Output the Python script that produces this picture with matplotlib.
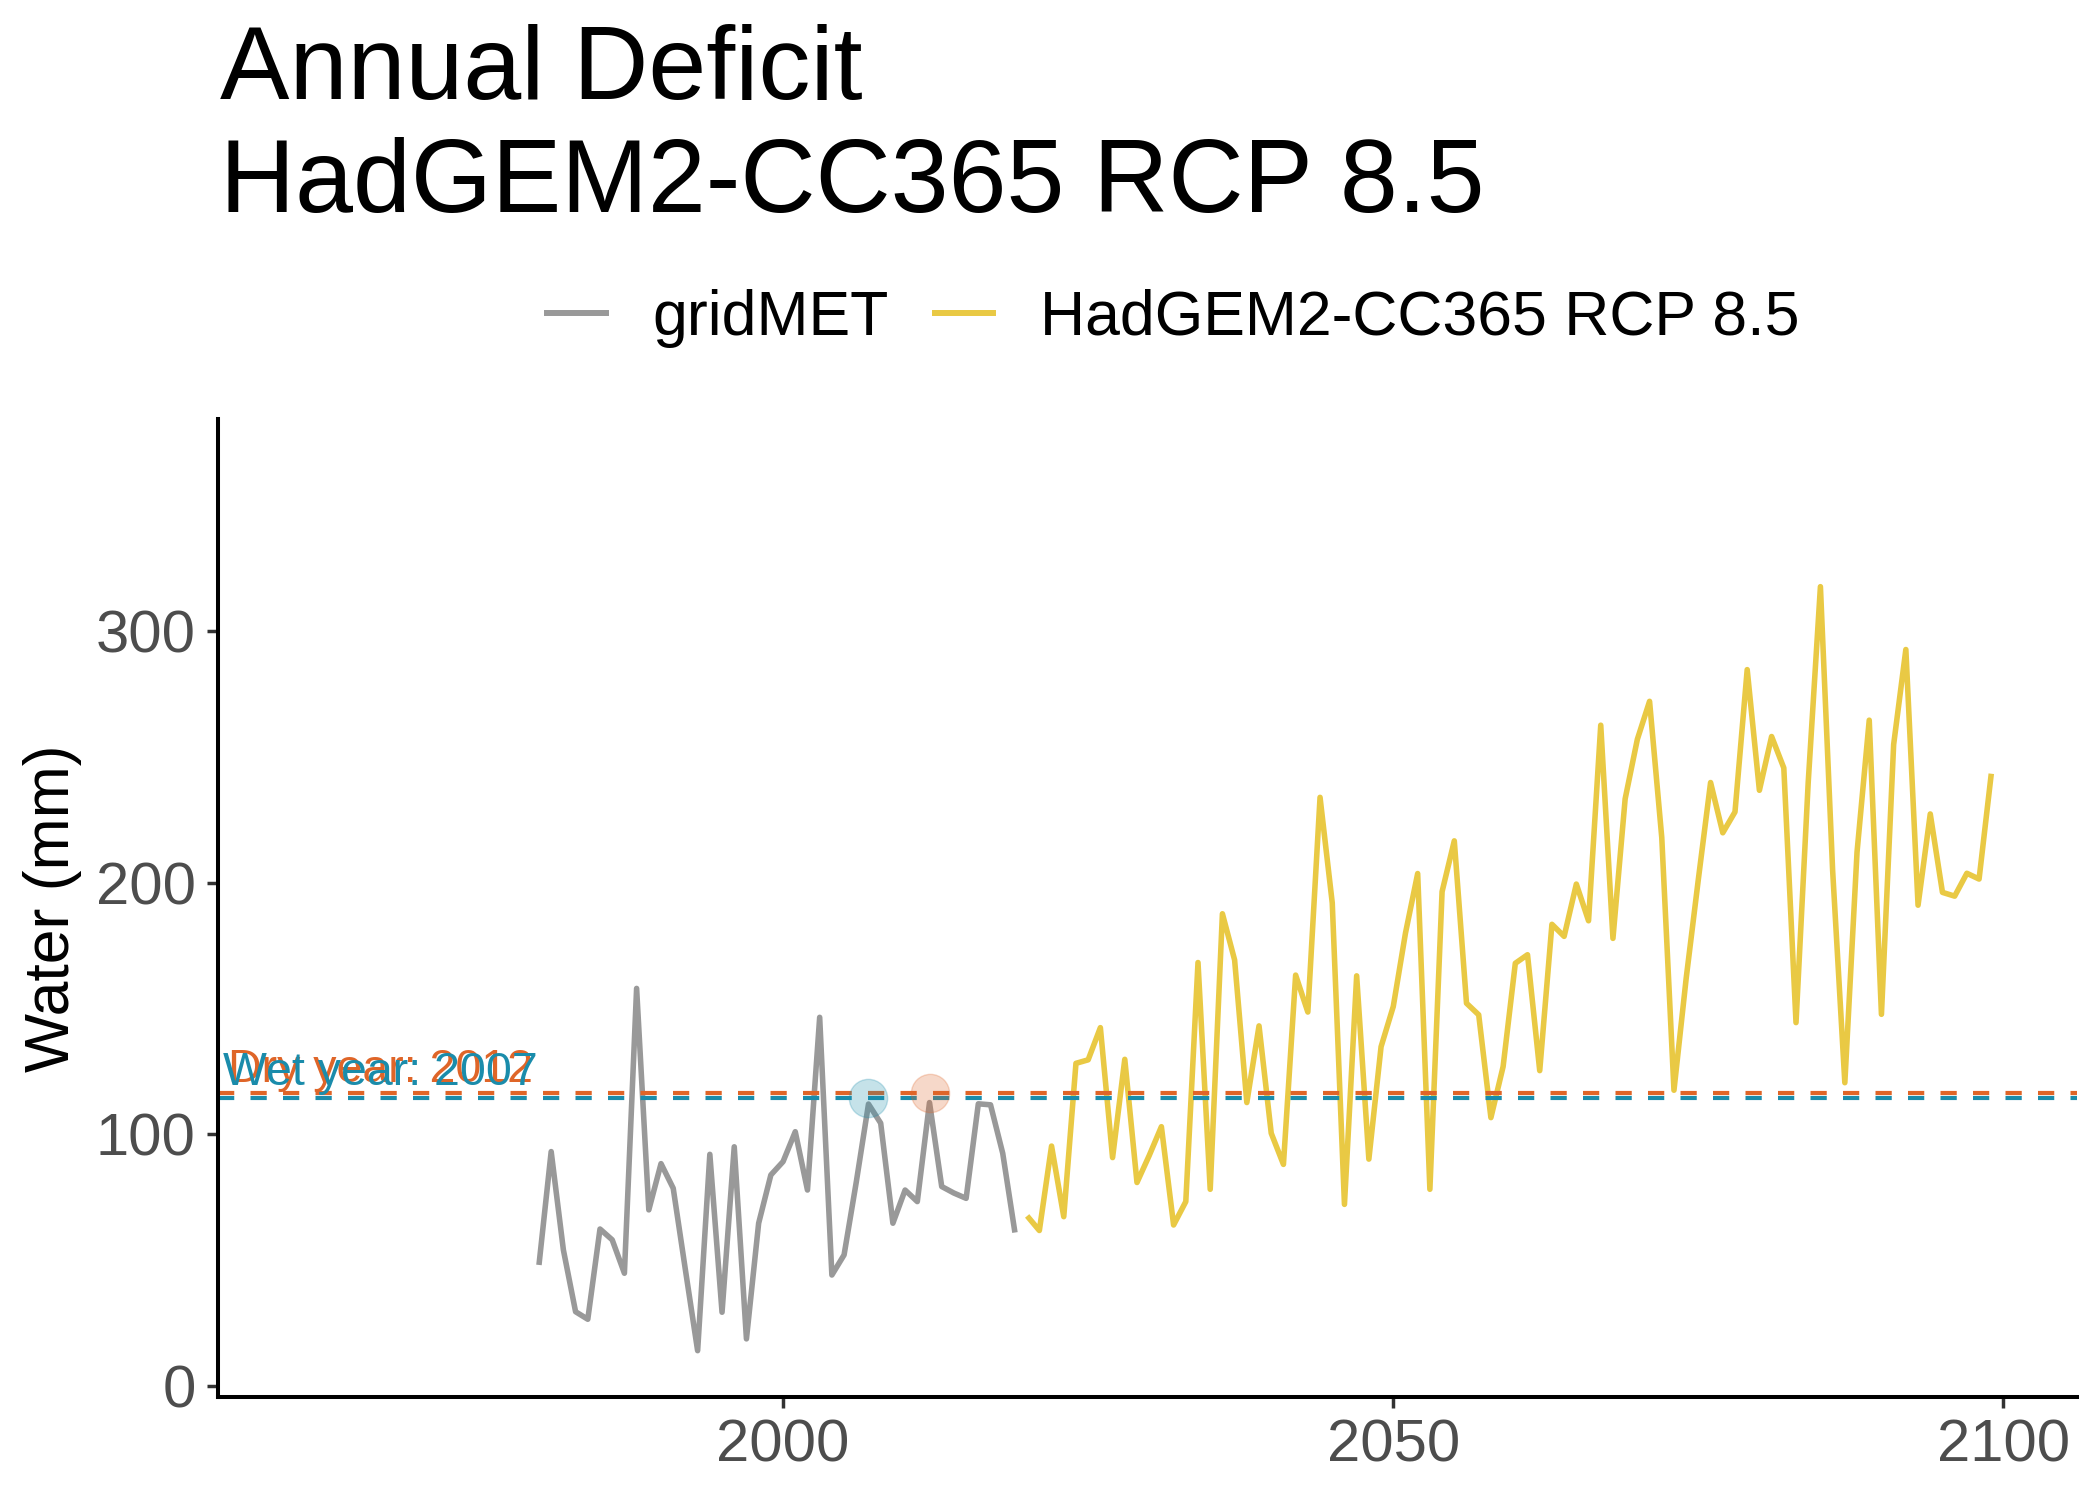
import matplotlib
matplotlib.use("Agg")
import matplotlib.pyplot as plt
from matplotlib.lines import Line2D

plt.rcParams['font.family'] = ['Liberation Sans', 'DejaVu Sans']

# data
years_gridmet = list(range(1980, 2020))
gridmet = [48.0, 93.1, 54.0, 29.4, 26.4, 62.3, 58.0, 44.7, 158.0, 69.9,
           88.3, 78.5, 46.0, 13.9, 92.0, 29.2, 95.0, 18.6, 64.6, 83.8,
           89.1, 101.0, 77.8, 146.5, 44.0, 52.0, 81.0, 112.0, 104.4, 64.6,
           77.8, 73.2, 112.6, 79.2, 76.6, 74.5, 112.1, 111.7, 92.4, 60.9]

years_model = list(range(2020, 2100))
hadgem = [67.5, 61.7, 95.3, 67.2, 128.2, 129.6, 142.4, 90.7, 129.8, 80.8,
          91.5, 103.0, 63.9, 73.2, 168.3, 78.1, 187.7, 169.3, 112.6, 143.1,
          100.4, 88.0, 163.3, 148.6, 234.0, 192.0, 72.1, 163.0, 90.1, 134.8,
          150.8, 180.0, 203.7, 78.1, 196.5, 216.7, 152.1, 147.5, 106.6, 126.9,
          168.0, 171.4, 125.3, 183.5, 178.7, 199.5, 184.9, 262.7, 177.9, 233.4,
          257.1, 272.2, 218.0, 117.5, 162.0, 201.5, 239.9, 219.9, 228.2, 284.8,
          236.8, 258.2, 245.7, 144.4, 240.0, 317.8, 205.0, 120.5, 212.2, 264.7,
          147.7, 255.0, 292.8, 191.1, 227.4, 196.2, 194.7, 203.8, 201.5, 243.4]

dry_year, dry_value = 2012, 116.3
wet_year, wet_value = 2007, 114.6
label_x = 1967

grey = '#999999'
yellow = '#E9C944'
orange = '#DF6528'
blue = '#1A8CAB'

fig = plt.figure(figsize=(21, 14.99), dpi=100)
ax = fig.add_axes([0.10381, 0.06825, 0.88510, 0.65224])

ax.plot(years_gridmet, gridmet, color=grey, lw=4.0,
        solid_joinstyle='round', solid_capstyle='butt')
ax.plot(years_model, hadgem, color=yellow, lw=4.0,
        solid_joinstyle='round', solid_capstyle='butt')

ax.axhline(dry_value, color=orange, lw=3.0, dashes=(3.9, 3.9))
ax.axhline(wet_value, color=blue, lw=3.0, dashes=(3.9, 3.9))

ax.scatter([wet_year], [wet_value], s=760, color=blue, alpha=0.25,
           edgecolors=blue, linewidths=1, zorder=5)
ax.scatter([dry_year], [dry_value], s=760, color=orange, alpha=0.25,
           edgecolors=orange, linewidths=1, zorder=5)

ax.annotate("Dry year: %d" % dry_year, (label_x, dry_value), xytext=(0, 8),
            textcoords='offset points', ha='center', va='baseline',
            color=orange, fontsize=33.5)
ax.annotate("Wet year: %d" % wet_year, (label_x, wet_value), xytext=(0, 9),
            textcoords='offset points', ha='center', va='baseline',
            color=blue, fontsize=33.5)

ax.set_xlim(1953.7, 2106.0)
ax.set_ylim(-4.4, 384.5)
ax.set_xticks([2000, 2050, 2100])
ax.set_yticks([0, 100, 200, 300])

for side in ['top', 'right']:
    ax.spines[side].set_visible(False)
for side in ['left', 'bottom']:
    ax.spines[side].set_linewidth(2.9)
    ax.spines[side].set_color('black')
ax.tick_params(axis='both', length=8, width=2.5, color='#333333',
               labelsize=43, labelcolor='#4D4D4D', pad=8)
ax.set_ylabel("Water (mm)", fontsize=45, color='black', labelpad=10)

fig.text(220 / 2100, 1 - 99 / 1499, "Annual Deficit", fontsize=75,
         ha='left', va='baseline')
fig.text(220 / 2100, 1 - 212 / 1499, "HadGEM2-CC365 RCP 8.5", fontsize=75,
         ha='left', va='baseline')

handles = [Line2D([], [], color=grey, lw=4.3),
           Line2D([], [], color=yellow, lw=4.3)]
fig.legend(handles, ["gridMET", "HadGEM2-CC365 RCP 8.5"], loc='center',
           bbox_to_anchor=(1173 / 2100, 1 - 318 / 1499), ncol=2, frameon=False,
           fontsize=45, handlelength=0.94, handletextpad=0.74,
           columnspacing=0.74, borderpad=0)

fig.savefig("out.png", dpi=100)
